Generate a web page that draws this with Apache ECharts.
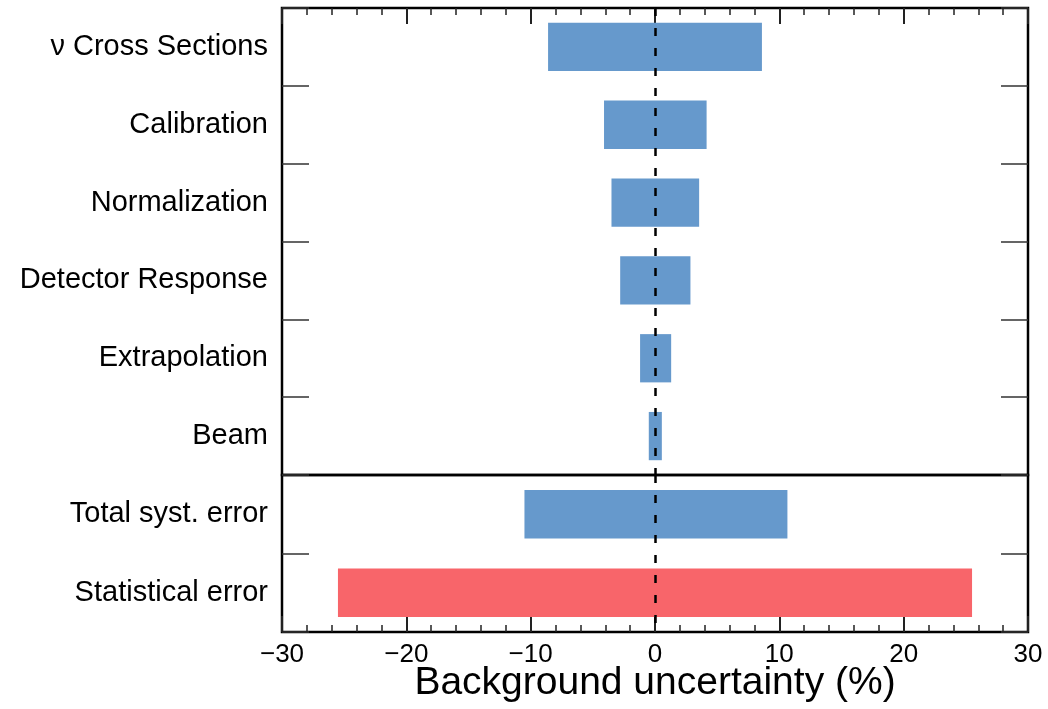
<!DOCTYPE html>
<html>
<head>
<meta charset="utf-8">
<script src="https://cdn.jsdelivr.net/npm/echarts@6/dist/echarts.min.js"></script>
<style>
html,body{margin:0;padding:0;background:#fff;}
#chart{width:1048px;height:709px;}
</style>
</head>
<body>
<div id="chart"></div>
<script>
// ---- data ----
const categories = ['ν Cross Sections', 'Calibration', 'Normalization', 'Detector Response', 'Extrapolation', 'Beam', 'Total syst. error', 'Statistical error'];
const lowValues  = [-8.6, -4.1, -3.5, -2.8, -1.2, -0.5, -10.5, -25.5];
const highValues = [8.6, 4.15, 3.55, 2.85, 1.3, 0.55, 10.65, 25.5];
const xTicks = [-30, -20, -10, 0, 10, 20, 30];
const nSyst = 6; // first six rows are individual systematics
const statCategory = 'Statistical error';

// ---- chart ----
const BLUE = '#6699cc';
const RED = '#f8656a';
const FONT = '"Liberation Sans", Arial, Helvetica, sans-serif';

const topCats = categories.slice(0, nSyst);
const botCats = categories.slice(nSyst);

function fmt(v) { return v < 0 ? '\u2212' + Math.abs(v) : String(v); }

function xAxisCfg(gridIndex, position, withLabels) {
  return {
    type: 'value', gridIndex: gridIndex, position: position,
    min: xTicks[0], max: xTicks[xTicks.length - 1], interval: xTicks[1] - xTicks[0],
    axisLine: { show: false, onZero: false },
    axisTick: { show: true, inside: true, length: 16, lineStyle: { color: '#222', width: 2 } },
    minorTick: { show: true, splitNumber: 5, length: 7, lineStyle: { color: '#222', width: 1.5 } },
    splitLine: { show: false },
    axisLabel: withLabels ? { show: true, margin: 10, fontSize: 26, color: '#000', fontFamily: FONT, formatter: fmt } : { show: false },
    name: withLabels ? 'Background uncertainty (%)' : '',
    nameLocation: 'middle',
    nameGap: 32,
    nameMoveOverlap: false,
    nameTextStyle: { fontSize: 39, color: '#000', fontFamily: FONT }
  };
}

function yAxisCfg(gridIndex, cats, position, withLabels) {
  return {
    type: 'category', gridIndex: gridIndex, position: position, inverse: true, data: cats,
    axisLine: { show: false, onZero: false },
    axisTick: { show: true, inside: true, length: 27, interval: 0, lineStyle: { color: '#333', width: 1.5 } },
    axisLabel: withLabels ? { show: true, margin: 14, fontSize: 29, color: '#000', fontFamily: FONT, interval: 0, padding: [8, 0, 0, 0] } : { show: false },
    splitLine: { show: false }
  };
}

function colorFn(p) { return p.name === statCategory ? RED : BLUE; }

const zeroLine = {
  silent: true, symbol: 'none', label: { show: false },
  lineStyle: { color: '#000', type: [8, 12], width: 2.5 },
  data: [{ xAxis: 0 }],
  animation: false
};

function barSeries(xi, yi, data, stack, withMark) {
  const s = {
    type: 'bar', xAxisIndex: xi, yAxisIndex: yi, stack: stack, data: data,
    barWidth: '62%', itemStyle: { color: colorFn }, silent: true, animation: false
  };
  if (withMark) s.markLine = zeroLine;
  return s;
}

const option = {
  backgroundColor: '#fff',
  animation: false,
  grid: [
    { left: 282, right: 20, top: 8, height: 467, show: true, borderColor: '#000', borderWidth: 2.5, backgroundColor: 'transparent', containLabel: false },
    { left: 282, right: 20, top: 475, height: 157, show: true, borderColor: '#000', borderWidth: 2.5, backgroundColor: 'transparent', containLabel: false }
  ],
  xAxis: [
    xAxisCfg(0, 'top', false),
    xAxisCfg(1, 'bottom', true)
  ],
  yAxis: [
    yAxisCfg(0, topCats, 'left', true),
    yAxisCfg(0, topCats, 'right', false),
    yAxisCfg(1, botCats, 'left', true),
    yAxisCfg(1, botCats, 'right', false)
  ],
  series: [
    barSeries(0, 0, lowValues.slice(0, nSyst), 'top', true),
    barSeries(0, 0, highValues.slice(0, nSyst), 'top', false),
    barSeries(1, 2, lowValues.slice(nSyst), 'bot', true),
    barSeries(1, 2, highValues.slice(nSyst), 'bot', false)
  ]
};

const chart = echarts.init(document.getElementById('chart'), null, { renderer: 'canvas' });
chart.setOption(option);
</script>
</body>
</html>
